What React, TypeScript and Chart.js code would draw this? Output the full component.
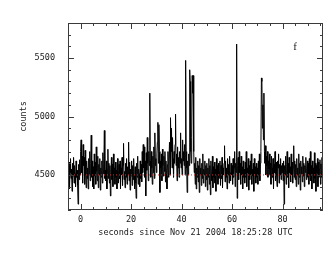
import React, { useEffect, useRef } from "react";
import { Chart, registerables } from "chart.js";

Chart.register(...registerables);

// time bins: start and width (seconds since Nov 21 2004 18:25:28 UTC)
const T_START = -5;
const T_STEP = 0.2;

// counts per 0.2 s bin (one row = 5 s)
const COUNTS: number[] = [
  4560,4420,4610,4380,4520,4640,4470,4550,4360,4600,4490,4650,4430,4580,4510,4400,4620,4480,4540,4410,4250,4590,4460,4630,4500,
  4700,4800,4520,4660,4430,4760,4580,4650,4420,4710,4500,4390,4620,4470,4560,4380,4640,4500,4700,4450,4600,4840,4480,4620,4400,
  4570,4380,4680,4490,4610,4420,4740,4530,4450,4660,4390,4590,4500,4640,4370,4560,4480,4620,4430,4690,4510,4600,4880,4470,4540,
  4450,4620,4380,4550,4720,4470,4600,4430,4580,4320,4520,4650,4460,4590,4400,4680,4490,4560,4420,4610,4480,4540,4380,4640,4500,
  4430,4590,4470,4620,4380,4560,4500,4650,4410,4580,4770,4460,4530,4390,4600,4480,4640,4420,4570,4500,4780,4450,4610,4370,4550,
  4490,4620,4410,4580,4460,4640,4500,4380,4570,4430,4300,4600,4480,4660,4420,4550,4510,4400,4620,4470,4590,4440,4700,4520,4760,
  4560,4740,4480,4620,4320,4690,4540,4820,4600,4450,4700,4580,5200,4620,4480,4700,4560,4420,4660,4520,4740,4470,4860,4580,4640,
  4520,4680,4780,4950,4600,4930,4700,4350,4620,4560,4680,4450,4720,4580,4490,4660,4530,4700,4440,4620,4510,4380,4590,4700,4480,
  4620,4780,4500,4990,4700,4900,4560,4820,4640,4480,4700,4600,4760,5020,4580,4680,4450,4740,4560,4650,4480,4700,4600,4860,4560,
  4640,4500,4800,4620,4700,4580,4760,4500,5480,4700,4560,4350,4620,4500,4680,4580,5400,5300,4700,4600,4820,5350,5200,5350,4700,
  4520,4600,4420,4650,4380,4560,4480,4620,4440,4580,4350,4640,4500,4560,4410,4600,4470,4680,4430,4550,4500,4620,4400,4580,4460,
  4600,4370,4560,4480,4640,4420,4580,4330,4620,4500,4450,4660,4390,4570,4480,4610,4430,4550,4360,4640,4500,4580,4420,4600,4470,
  4530,4620,4410,4580,4470,4650,4390,4560,4500,4600,4750,4440,4620,4480,4560,4380,4640,4500,4590,4430,4660,4520,4450,4600,4500,
  4580,4420,4640,4480,4560,4700,4400,4600,4520,5620,4300,4580,4650,4460,4700,4520,4600,4420,4660,4500,4570,4380,4620,4480,4550,
  4430,4610,4480,4700,4400,4560,4520,4640,4370,4580,4460,4620,4500,4680,4420,4550,4490,4600,4360,4640,4510,4570,4430,4600,4480,
  4560,4420,4620,4500,4680,4450,4600,4700,5330,5300,4900,5100,4800,5200,4700,4600,4750,4500,4660,4580,4700,4480,4620,4550,4680,
  4500,4600,4420,4660,4560,4480,4640,4380,4590,4520,4700,4450,4610,4500,4400,4620,4560,4680,4430,4590,4500,4640,4460,4580,4520,
  4600,4450,4620,4250,4580,4500,4660,4420,4550,4700,4480,4600,4390,4650,4520,4570,4440,4680,4500,4610,4430,4560,4750,4480,4620,
  4460,4590,4400,4640,4500,4560,4420,4680,4480,4600,4370,4620,4510,4570,4440,4660,4490,4600,4400,4580,4520,4650,4460,4550,4620,
  4480,4600,4420,4640,4500,4700,4450,4580,4380,4620,4510,4560,4430,4690,4470,4600,4360,4580,4520,4640,4400,4610,4480,4550,4630,
  4420,4600,4480,4650,4460,
];

const BASELINE = 4500;

const X_MIN = -5;
const X_MAX = 96;
const X_TICKS = [0, 20, 40, 60, 80];
const X_MAJOR = 20;
const X_MINOR = 5;
const Y_MIN = 4200;
const Y_MAX = 5800;
const Y_TICKS = [4500, 5000, 5500];
const Y_MAJOR = 500;
const Y_MINOR = 100;

const X_TITLE = "seconds since Nov 21 2004 18:25:28 UTC";
const Y_TITLE = "counts";
const PANEL_LABEL = "f";

const FONT_FAMILY = "'DejaVu Sans Mono', monospace";
const TEXT_COLOR = "#1a1a1a";
const FRAME_COLOR = "#3a3a3a";

const frameTicksPlugin = {
  id: "frameTicks",
  afterDraw(chart: any) {
    const { ctx, chartArea, scales } = chart;
    const { left, right, top, bottom } = chartArea;
    const xs = scales.x;
    const ys = scales.y;
    ctx.save();
    ctx.strokeStyle = FRAME_COLOR;
    ctx.lineWidth = 1;
    ctx.strokeRect(left + 0.5, top + 0.5, right - left - 1, bottom - top - 1);
    ctx.beginPath();
    for (let v = Math.ceil(X_MIN / X_MINOR) * X_MINOR; v <= X_MAX; v += X_MINOR) {
      const px = Math.round(xs.getPixelForValue(v)) + 0.5;
      const len = v % X_MAJOR === 0 ? 6 : 3;
      ctx.moveTo(px, bottom);
      ctx.lineTo(px, bottom - len);
      ctx.moveTo(px, top);
      ctx.lineTo(px, top + len);
    }
    for (let v = Math.ceil(Y_MIN / Y_MINOR) * Y_MINOR; v <= Y_MAX; v += Y_MINOR) {
      const py = Math.round(ys.getPixelForValue(v)) + 0.5;
      const len = v % Y_MAJOR === 0 ? 6 : 3;
      ctx.moveTo(left, py);
      ctx.lineTo(left + len, py);
      ctx.moveTo(right, py);
      ctx.lineTo(right - len, py);
    }
    ctx.stroke();
    ctx.fillStyle = TEXT_COLOR;
    ctx.font = "11px 'Liberation Serif', serif";
    ctx.textAlign = "center";
    ctx.textBaseline = "middle";
    ctx.fillText(PANEL_LABEL, right - 28, top + 24);
    ctx.restore();
  },
};

export default function App() {
  const ref = useRef<HTMLCanvasElement | null>(null);

  useEffect(() => {
    if (!ref.current) return;
    const points = COUNTS.map((c, i) => ({ x: T_START + i * T_STEP, y: c }));
    const chart = new Chart(ref.current, {
      type: "line",
      data: {
        datasets: [
          {
            data: [
              { x: X_MIN, y: BASELINE },
              { x: X_MAX, y: BASELINE },
            ],
            borderColor: "#d03030",
            borderWidth: 1,
            borderDash: [1, 2],
            pointRadius: 0,
            fill: false,
          },
          {
            data: points,
            borderColor: "#000000",
            borderWidth: 1,
            pointRadius: 0,
            tension: 0,
            fill: false,
          },
        ],
      },
      options: {
        responsive: false,
        animation: false,
        devicePixelRatio: 1,
        layout: { padding: { left: 0, right: 10, top: 23, bottom: 0 } },
        plugins: {
          legend: { display: false },
          tooltip: { enabled: false },
        },
        scales: {
          x: {
            type: "linear",
            min: X_MIN,
            max: X_MAX,
            grid: { display: false, drawTicks: false },
            border: { display: false },
            afterBuildTicks: (s: any) => {
              s.ticks = X_TICKS.map((v) => ({ value: v }));
            },
            ticks: {
              padding: 5,
              color: TEXT_COLOR,
              font: { family: FONT_FAMILY, size: 8.5 },
              maxRotation: 0,
              autoSkip: false,
              callback: (v: any) => String(v),
            },
            title: {
              display: true,
              text: X_TITLE,
              color: TEXT_COLOR,
              font: { family: FONT_FAMILY, size: 8.5 },
              padding: { top: 0, bottom: 20 },
            },
            afterFit: (s: any) => {
              s.height = 48;
            },
          },
          y: {
            type: "linear",
            min: Y_MIN,
            max: Y_MAX,
            grid: { display: false, drawTicks: false },
            border: { display: false },
            afterBuildTicks: (s: any) => {
              s.ticks = Y_TICKS.map((v) => ({ value: v }));
            },
            ticks: {
              padding: 13,
              color: TEXT_COLOR,
              font: { family: FONT_FAMILY, size: 8.5 },
              autoSkip: false,
              callback: (v: any) => String(v),
            },
            title: {
              display: true,
              text: Y_TITLE,
              color: TEXT_COLOR,
              font: { family: FONT_FAMILY, size: 8.5 },
              padding: { top: 19, bottom: 0 },
            },
            afterFit: (s: any) => {
              s.width = 68;
            },
          },
        },
      },
      plugins: [frameTicksPlugin],
    });
    return () => chart.destroy();
  }, []);

  return (
    <div style={{ position: "absolute", left: 0, top: 0, width: 333, height: 258, background: "#fff" }}>
      <canvas ref={ref} width={333} height={258} style={{ width: 333, height: 258 }} />
    </div>
  );
}
